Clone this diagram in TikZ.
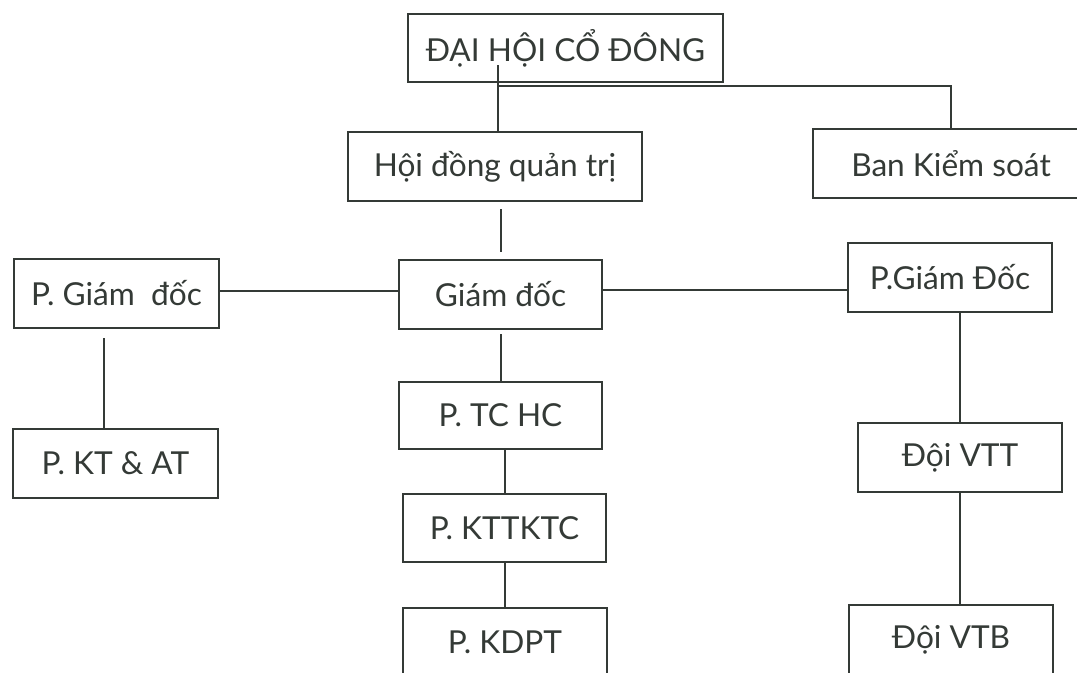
\documentclass[tikz,border=0pt]{standalone}
\usepackage{fontspec}
\setmainfont{Lato}
\usepackage{tikz}
\tikzset{>=stealth}
\definecolor{ink}{RGB}{52,58,54}
\tikzset{
  unit/.style={draw=ink, line width=0.2mm, text=ink, inner sep=0pt,
    minimum width=20.3mm, minimum height=6.9mm, font=\fontsize{9}{11}\selectfont},
  link/.style={draw=ink, line width=0.2mm}
}

\begin{document}
\begin{tikzpicture}[x=0.1mm,y=-0.1mm]
      \useasboundingbox (0,0) rectangle (1077,672);
      \clip (0,0) rectangle (1077,672);
      \node[unit,minimum width=31.5mm,minimum height=6.8mm] (dhcd) at (565.5,48) {ĐẠI HỘI CỔ ĐÔNG};
      \node[unit,minimum width=29.4mm] (hdqt) at (495,166.5) {Hội đồng quản trị};
      \node[unit,minimum width=27.6mm] (bks) at (951,163.5) {Ban Kiểm soát};
      \node[unit,minimum width=20.5mm] (pgdl) at (116.5,293.5) {P. Giám\ \ đốc};
      \node[unit] (gd) at (500.5,294.5) {Giám đốc};
      \node[unit,minimum width=20.4mm] (pgdr) at (950,277.5) {P.Giám Đốc};
      \node[unit,minimum width=20.5mm] (ktat) at (115.5,463.5) {P. KT \& AT};
      \node[unit,minimum height=6.7mm] (tchc) at (500.5,415.5) {P. TC HC};
      \node[unit,minimum height=6.8mm] (kttktc) at (504.5,528) {P. KTTKTC};
      \node[unit,minimum width=20.4mm] (kdpt) at (505,642.5) {P. KDPT};
      \node[unit,minimum width=20.4mm] (vtt) at (960,457.5) {Đội VTT};
      \node[unit,minimum width=20.4mm] (vtb) at (951,639.5) {Đội VTB};
      \coordinate (stub) at (498,65);
      \coordinate (split) at (498,86);
      \draw[link] (stub) -- (split |- hdqt.north);
      \draw[link] (split) -| (bks.north);
      \draw[link,shorten <=0.7mm,shorten >=0.7mm] (gd.north |- hdqt.south) -- (gd.north);
      \draw[link] ([yshift=0.4mm]gd.west) -- ([yshift=0.4mm]gd.west -| pgdl.east);
      \draw[link] ([yshift=0.5mm]gd.east) -- ([yshift=0.5mm]gd.east -| pgdr.west);
      \draw[link,shorten <=0.9mm] ([xshift=-1.3mm]pgdl.south) -- ([xshift=-1.3mm]pgdl.south |- ktat.north);
      \draw[link,shorten <=0.4mm] (gd.south) -- (gd.south |- tchc.north);
      \draw[link] (kttktc.north |- tchc.south) -- (kttktc.north);
      \draw[link] (kttktc.south) -- (kttktc.south |- kdpt.north);
      \draw[link] (vtt.north |- pgdr.south) -- (vtt.north);
      \draw[link] (vtt.south) -- (vtt.south |- vtb.north);
    \end{tikzpicture}
\end{document}
